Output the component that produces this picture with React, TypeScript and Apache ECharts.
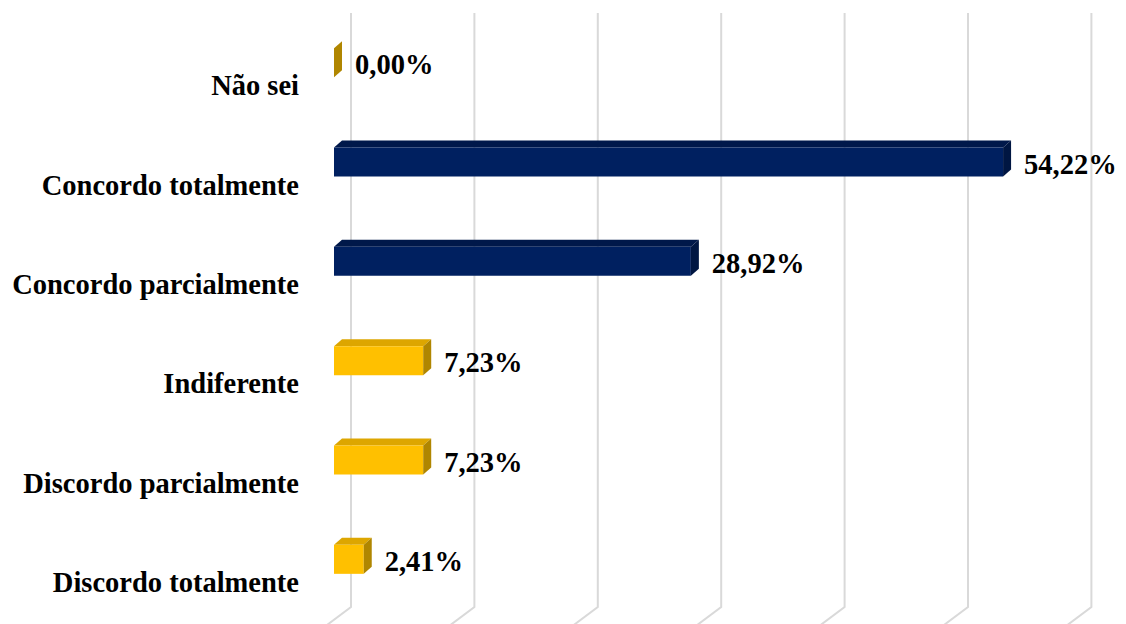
import React, { useEffect, useRef } from "react";
import * as echarts from "echarts";

const categories = [
  "Não sei",
  "Concordo totalmente",
  "Concordo parcialmente",
  "Indiferente",
  "Discordo parcialmente",
  "Discordo totalmente",
];
const values = [0.0, 54.22, 28.92, 7.23, 7.23, 2.41];
const barGroups = ["gold", "navy", "navy", "gold", "gold", "gold"];
const gridTicks = [0, 10, 20, 30, 40, 50, 60];

const palette: Record<string, { front: string; top: string; side: string }> = {
  navy: { front: "#002060", top: "#00184a", side: "#001642" },
  gold: { front: "#FFC000", top: "#DDA600", side: "#B08600" },
};

const FONT = "bold 28.5px 'Liberation Serif', 'Times New Roman', serif";

export default function App() {
  const ref = useRef<HTMLDivElement>(null);
  useEffect(() => {
    document.body.style.margin = "0";
    const chart = echarts.init(ref.current!, undefined, { renderer: "svg" });
    const DX = 8;
    const DY = 7;
    const BAR_H = 29;
    const option: any = {
      animation: false,
      backgroundColor: "#ffffff",
      grid: { left: 334, right: 51.6, top: 13, bottom: 15, containLabel: false },
      xAxis: {
        type: "value",
        min: 0,
        max: 60,
        interval: 10,
        axisLine: { show: false },
        axisTick: { show: false },
        axisLabel: { show: false },
        splitLine: { show: false },
      },
      yAxis: {
        type: "category",
        data: categories,
        inverse: true,
        axisLine: { show: false },
        axisTick: { show: false },
        splitLine: { show: false },
        axisLabel: {
          margin: 35,
          formatter: (v: string) => `{a|${v}}`,
          rich: {
            a: {
              fontFamily: "'Liberation Serif', 'Times New Roman', serif",
              fontWeight: "bold",
              fontSize: 28.5,
              color: "#000000",
              padding: [46, 0, 0, 0],
            },
          },
        },
      },
      series: [
        {
          type: "custom",
          z: 1,
          data: gridTicks.map((t) => [t, 0]),
          encode: { x: 0, y: 1 },
          renderItem: (params: any, api: any) => {
            const cs = params.coordSys;
            const p = api.coord([api.value(0), 0]);
            const x = p[0] + 17;
            const top = cs.y;
            const bot = cs.y + cs.height - 2;
            return {
              type: "polyline",
              shape: { points: [[x, top], [x, bot], [x - 24, bot + 18]] },
              style: { stroke: "#d9d9d9", lineWidth: 2, fill: "none" },
              silent: true,
            };
          },
        },
        {
          type: "custom",
          z: 2,
          data: values.map((v, i) => [v, i]),
          encode: { x: 0, y: 1 },
          renderItem: (params: any, api: any) => {
            const v = api.value(0);
            const i = api.value(1);
            const s = api.coord([0, i]);
            const e = api.coord([v, i]);
            const col = palette[barGroups[params.dataIndex]];
            const x0 = s[0];
            const x1 = e[0];
            const yt = s[1] - BAR_H / 2;
            const yb = s[1] + BAR_H / 2;
            const label = v.toFixed(2).replace(".", ",") + "%";
            return {
              type: "group",
              children: [
                {
                  type: "polygon",
                  shape: { points: [[x0, yt], [x1, yt], [x1 + DX, yt - DY], [x0 + DX, yt - DY]] },
                  style: { fill: col.top },
                },
                {
                  type: "rect",
                  shape: { x: x0, y: yt, width: x1 - x0, height: BAR_H },
                  style: { fill: col.front },
                },
                {
                  type: "polygon",
                  shape: { points: [[x1, yt], [x1 + DX, yt - DY], [x1 + DX, yb - DY], [x1, yb]] },
                  style: { fill: col.side },
                },
                {
                  type: "text",
                  x: x1 + 21,
                  y: s[1] + 2,
                  style: {
                    text: label,
                    font: FONT,
                    fill: "#000000",
                    align: "left",
                    verticalAlign: "middle",
                  },
                },
              ],
            };
          },
        },
      ],
    };
    chart.setOption(option);
    return () => chart.dispose();
  }, []);
  return <div ref={ref} style={{ width: 1126, height: 624 }} />;
}
